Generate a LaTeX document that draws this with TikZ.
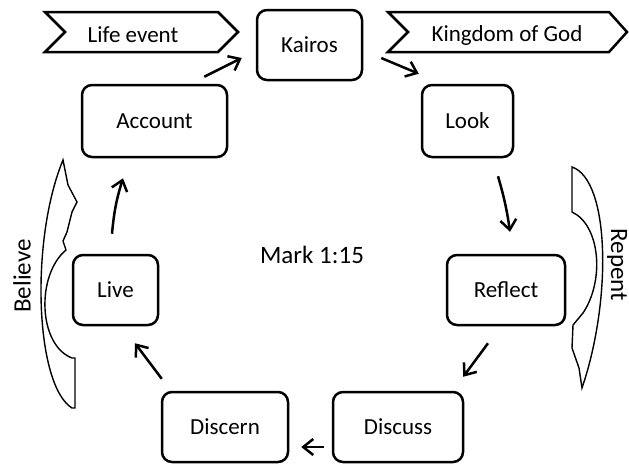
\documentclass[tikz,border=0pt]{standalone}
\usepackage{fontspec}
\setmainfont{Carlito}
\usetikzlibrary{arrows.meta,calc}
\begin{document}
\begin{tikzpicture}[x=1pt,y=-1pt,
  box/.style={draw, line width=2.5pt, rounded corners=10pt, align=center,
              font=\fontsize{23}{27}\selectfont, inner sep=0pt},
  arr/.style={line width=2.5pt, -{Straight Barb[length=10pt,width=16pt]}},
  blk/.style={draw, line width=1.4pt, line join=miter},
  chev/.style={draw, line width=2.5pt, line join=miter},
  lbl/.style={font=\fontsize{23}{27}\selectfont, inner sep=0pt},
  big/.style={font=\fontsize{25}{30}\selectfont, inner sep=0pt}]
\useasboundingbox (0,0) rectangle (629,466);
\fill[white] (0,0) rectangle (629,466);

% chevrons
\draw[chev] (45,12) -- (218,12) -- (238,32) -- (218,52) -- (45,52) -- (65,32) -- cycle;
\node[lbl] (life) at (133,35) {Life event};
\draw[chev] (388,12) -- (609,12) -- (627,32) -- (609,52) -- (388,52) -- (408,32) -- cycle;
\node[lbl] (kingdom) at (507,35) {Kingdom of God};

% boxes
\node[box, minimum width=105pt, minimum height=70pt] (kairos) at (309.5,45) {Kairos};
\node[box, minimum width=145pt, minimum height=72pt] (account) at (154.5,121) {Account};
\node[box, minimum width=91pt, minimum height=72pt] (look) at (467.5,121) {Look};
\node[box, minimum width=85pt, minimum height=70pt] (live) at (115.5,290) {Live};
\node[box, minimum width=118pt, minimum height=70pt] (reflect) at (506,290) {Reflect};
\node[box, minimum width=126pt, minimum height=70pt] (discern) at (225,427) {Discern};
\node[box, minimum width=130pt, minimum height=70pt] (discuss) at (398,427) {Discuss};

\node[big] (mark) at (312,255) {Mark 1:15};

% arrows
\draw[arr] ($(account.north east)+(-24,-7)$) -- ($(kairos.west)+(-14,13)$);
\draw[arr] ($(kairos.east)+(18,13)$) -- ($(look.north west)+(-2,-10)$);
\draw[arr] ($(look.south)+(30.5,18)$) to[bend left=4] ($(reflect.north)+(4,-22)$);
\draw[arr] ($(reflect.south)+(-18,17)$) -- ($(discuss.north east)+(-1,-14)$);
\draw[arr] ($(discuss.west)+(-8,20)$) -- ($(discern.east)+(12,20)$);
\draw[arr] ($(discern.north west)+(1,-12)$) -- ($(live.south)+(19.5,17)$);
\draw[arr] ($(live.north)+(-3.5,-20)$) to[bend left=6] ($(account.south)+(-31.5,20)$);

% Believe block arrow
\draw[blk] (63,160) -- (68,185) -- (77,202) -- (72,212) -- (67,232) -- (63,241) -- (66,250)
  .. controls (36,275) and (38,345) .. (72,358) -- (75,358) -- (75,408) -- (72,408)
  .. controls (35,385) and (30,240) .. (63,160) -- cycle;
\node[big, rotate=90] (believe) at (22,276) {Believe};

% Repent block arrow
\draw[blk] (582,388) -- (579,368) -- (572,348) -- (573,325) -- (583,313)
  .. controls (605,280) and (600,225) .. (572,212) -- (572,167)
  .. controls (610,180) and (612,300) .. (582,388) -- cycle;
\node[big, rotate=-90] (repent) at (617,265) {Repent};
\end{tikzpicture}
\end{document}
